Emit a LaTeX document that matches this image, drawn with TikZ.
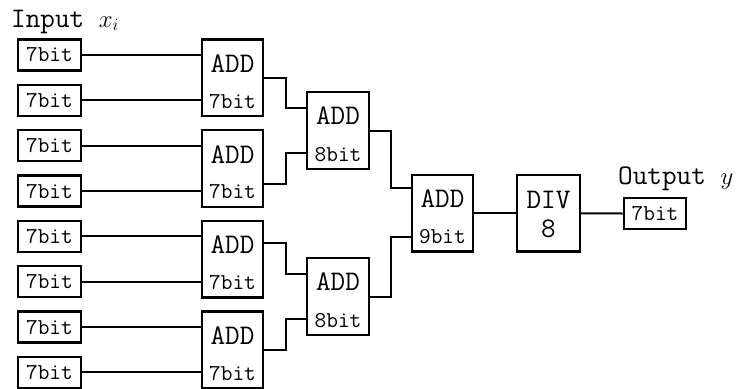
\documentclass[tikz,border=0pt]{standalone}
\usepackage{fontspec}
\usetikzlibrary{calc}
\begin{document}
\begin{tikzpicture}[x=1bp,y=-1bp,
  blk/.style={draw, line width=2.3bp, inner sep=0pt},
  wire/.style={line width=2bp},
  big/.style={font=\ttfamily\fontsize{28.5}{32}\selectfont, inner sep=0pt},
  small/.style={font=\ttfamily\fontsize{22.8}{26}\selectfont, inner sep=0pt},
  regbox/.style={blk, small, minimum width=63bp, minimum height=31bp},
  addbox/.style={blk, minimum width=61bp, minimum height=76.5bp}]
\useasboundingbox (0,0) rectangle (745,388);

% headings
\node[big, anchor=base west] (inlab) at (11,27) {Input {\fontsize{26}{30}\selectfont$x_i$}};
\node[big, anchor=base west] (outlab) at (618,184) {Output {\fontsize{26}{30}\selectfont$y$}};

% input registers
\node[regbox] (in1) at (49.5,55) {7bit};
\node[regbox] (in2) at (49.5,100.35) {7bit};
\node[regbox] (in3) at (49.5,145.7) {7bit};
\node[regbox] (in4) at (49.5,191.05) {7bit};
\node[regbox] (in5) at (49.5,236.4) {7bit};
\node[regbox] (in6) at (49.5,281.75) {7bit};
\node[regbox] (in7) at (49.5,327.1) {7bit};
\node[regbox] (in8) at (49.5,372.45) {7bit};

% first adder stage
\foreach \n/\y in {a1a/77.7, a1b/168.4, a1c/259.1, a1d/349.8}{
  \node[addbox] (\n) at (232.5,\y) {};
  \node[big] (\n-op) at ($(\n.center)+(0,-14)$) {ADD};
  \node[small] (\n-w) at ($(\n.center)+(0,23.5)$) {7bit};
}

% second adder stage
\foreach \n/\y in {a2a/130.5, a2b/296.5}{
  \node[addbox, minimum width=62bp] (\n) at (338,\y) {};
  \node[big] (\n-op) at ($(\n.center)+(0,-14.5)$) {ADD};
  \node[small] (\n-w) at ($(\n.center)+(0,24)$) {8bit};
}

% final adder
\node[addbox] (a3) at (442.5,213.3) {};
\node[big] (a3-op) at ($(a3.center)+(0,-15)$) {ADD};
\node[small] (a3-w) at ($(a3.center)+(0,23.4)$) {9bit};

% divider
\node[addbox, minimum width=63bp] (dv) at (548.5,213.3) {};
\node[big] (dv-op) at ($(dv.center)+(0,-13.5)$) {DIV};
\node[big] (dv-k) at ($(dv.center)+(0,16)$) {8};

% output register
\node[regbox, minimum width=62.5bp] (out) at (655,213.5) {7bit};

% inputs into the first stage
\draw[wire] (in1.east) -- (in1.east -| a1a.west);
\draw[wire] (in2.east) -- (in2.east -| a1a.west);
\draw[wire] (in3.east) -- (in3.east -| a1b.west);
\draw[wire] (in4.east) -- (in4.east -| a1b.west);
\draw[wire] (in5.east) -- (in5.east -| a1c.west);
\draw[wire] (in6.east) -- (in6.east -| a1c.west);
\draw[wire] (in7.east) -- (in7.east -| a1d.west);
\draw[wire] (in8.east) -- (in8.east -| a1d.west);

% first stage into second stage
\coordinate (a1a-o) at (a1a.east);
\coordinate (a1b-o) at ($(a1b.east)+(0,16)$);
\coordinate (a1c-o) at ($(a1c.east)+(0,-16)$);
\coordinate (a1d-o) at (a1d.east);
\coordinate (a2a-i1) at ($(a2a.west)+(0,-22.7)$);
\coordinate (a2a-i2) at ($(a2a.west)+(0,22.7)$);
\coordinate (a2b-i1) at ($(a2b.west)+(0,-22.7)$);
\coordinate (a2b-i2) at ($(a2b.west)+(0,22.7)$);
\draw[wire] (a1a-o) -- ++(22,0) |- (a2a-i1);
\draw[wire] (a1b-o) -- ++(22,0) |- (a2a-i2);
\draw[wire] (a1c-o) -- ++(22,0) |- (a2b-i1);
\draw[wire] (a1d-o) -- ++(22,0) |- (a2b-i2);

% second stage into the final adder
\coordinate (a3-i1) at ($(a3.west)+(0,-25)$);
\coordinate (a3-i2) at ($(a3.west)+(0,23.4)$);
\draw[wire] (a2a.east) -- ++(21,0) |- (a3-i1);
\draw[wire] (a2b.east) -- ++(21,0) |- (a3-i2);

% adder -> divider -> output
\draw[wire] (a3.east) -- (dv.west);
\draw[wire] (dv.east) -- (out.west);
\end{tikzpicture}
\end{document}
